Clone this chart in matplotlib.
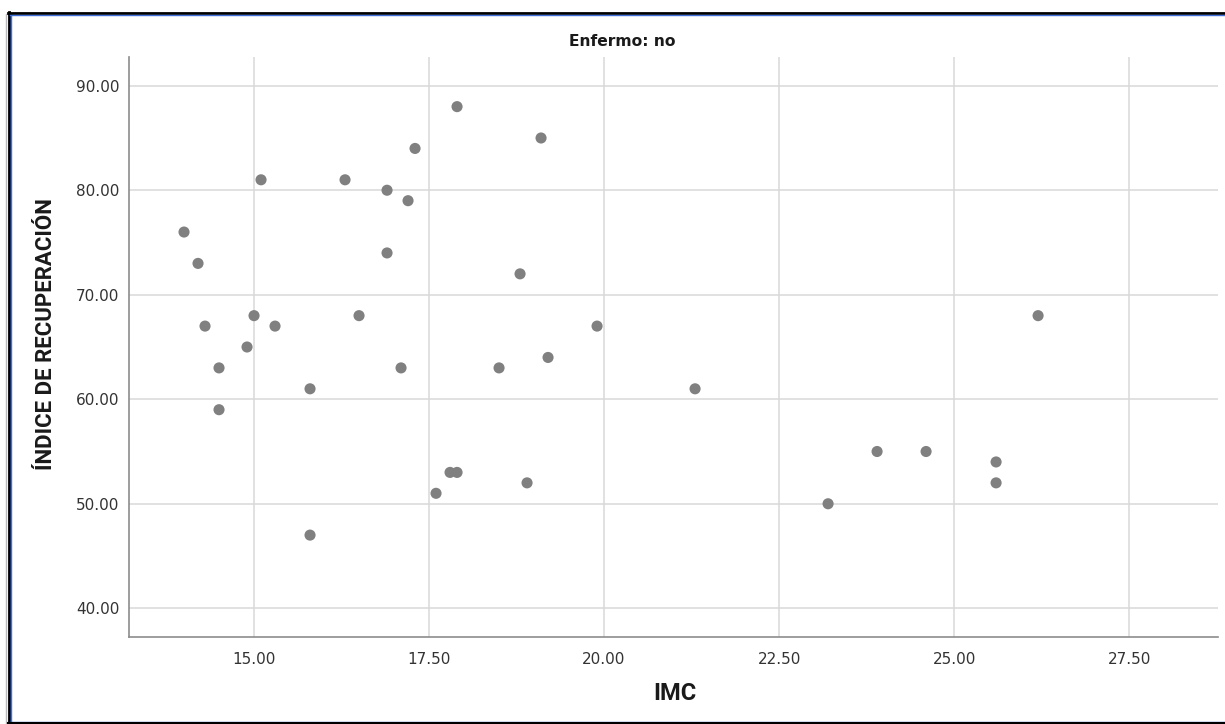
import matplotlib
matplotlib.use("Agg")
import matplotlib.pyplot as plt
from matplotlib.lines import Line2D

# Data
imc = [14.0, 14.2, 14.3, 14.5, 14.5, 14.9, 15.0, 15.1, 15.3, 15.8, 15.8,
       16.3, 16.5, 16.9, 16.9, 17.1, 17.2, 17.3, 17.6, 17.8, 17.9, 17.9,
       18.5, 18.8, 18.9, 19.1, 19.2, 19.9, 21.3, 23.2, 23.9, 24.6, 25.6,
       25.6, 26.2]
indice = [76, 73, 67, 63, 59, 65, 68, 81, 67, 61, 47,
          81, 68, 80, 74, 63, 79, 84, 51, 53, 53, 88,
          63, 72, 52, 85, 64, 67, 61, 50, 55, 55, 54,
          52, 68]
xticks = [15.0, 17.5, 20.0, 22.5, 25.0, 27.5]
yticks = [40, 50, 60, 70, 80, 90]
title = "Enfermo: no"
xlabel = "IMC"
ylabel = "ÍNDICE DE RECUPERACIÓN"

W, H = 1225, 724
fig = plt.figure(figsize=(W / 100, H / 100), dpi=100)
fig.patch.set_facecolor("white")

def fx(px):
    return px / W

def fy(py):
    return 1 - py / H

ax = fig.add_axes([fx(129), fy(637), fx(1218) - fx(129), fy(57) - fy(637)])
ax.set_xlim(13.214, 28.77)
ax.set_ylim(37.25, 92.75)

ax.grid(True, color="#d9d9d9", linewidth=1.1, zorder=0)
ax.set_axisbelow(True)
ax.scatter(imc, indice, s=64, color="#808080", edgecolors="none", zorder=3)

ax.set_xticks(xticks)
ax.set_yticks(yticks)
ax.set_xticklabels([f"{v:.2f}" for v in xticks])
ax.set_yticklabels([f"{v:.2f}" for v in yticks])
ax.tick_params(axis="both", length=0, labelsize=11, labelcolor="#333333")
ax.tick_params(axis="x", pad=11)
ax.tick_params(axis="y", pad=7)

for s in ["top", "right"]:
    ax.spines[s].set_visible(False)
for s in ["left", "bottom"]:
    ax.spines[s].set_color("#8c8c8c")
    ax.spines[s].set_linewidth(1.2)

fig.text(fx(622), fy(42), title, ha="center", va="center",
         fontsize=11.2, fontweight="bold", color="#1a1a1a",
         family=["DejaVu Sans"])
fig.text(fx(674.5), fy(693.5), xlabel, ha="center", va="center",
         fontsize=17, fontweight="bold", color="#1a1a1a",
         family=["Roboto", "DejaVu Sans"])
fig.text(fx(46.5), fy(334), ylabel, ha="center", va="center", rotation=90,
         fontsize=16, fontweight="bold", color="#1a1a1a",
         family=["Roboto", "DejaVu Sans"])

# Frame around the picture
def hline(y, x0, x1, color, lw):
    fig.add_artist(Line2D([fx(x0), fx(x1)], [fy(y), fy(y)], color=color,
                          linewidth=lw, transform=fig.transFigure))

def vline(x, y0, y1, color, lw):
    fig.add_artist(Line2D([fx(x), fx(x)], [fy(y0), fy(y1)], color=color,
                          linewidth=lw, transform=fig.transFigure))

vline(6, 14, 724, "#bbbbbb", 1.0)
vline(8.7, 11.5, 724, "#000000", 2.0)
vline(10.5, 13.5, 724, "#3f6fd8", 1.0)
hline(12.5, 7.5, 1225, "#000000", 2.0)
hline(14.5, 10, 1225, "#3f6fd8", 1.0)
hline(721.5, 10, 1225, "#3f6fd8", 1.0)
hline(723.3, 7.5, 1225, "#000000", 1.5)

fig.savefig("out.png", dpi=100, facecolor="white")
